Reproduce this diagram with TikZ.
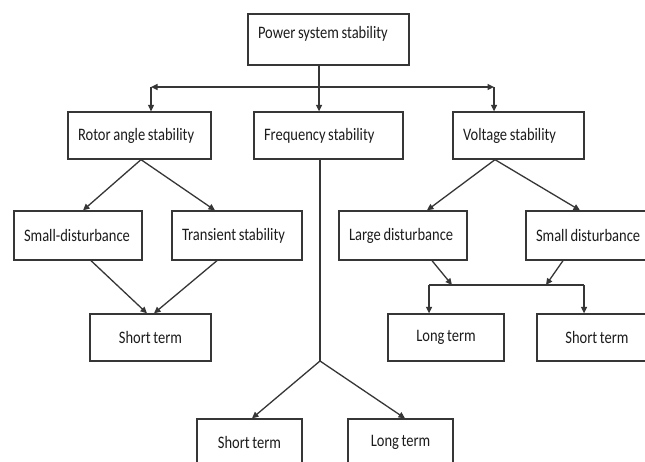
\documentclass[tikz,border=0pt]{standalone}
\usepackage{fontspec}
\setmainfont{Carlito}[FakeStretch=0.83, WordSpace=0.8]
\usepackage{tikz}
\usetikzlibrary{arrows.meta, calc, positioning}
\definecolor{linegray}{HTML}{363636}
\definecolor{textgray}{HTML}{1C1C1C}

\begin{document}
\begin{tikzpicture}[x=1pt, y=-1pt]
    \tikzset{
        box/.style={
                draw=linegray, line width=1.3pt, rectangle, text=textgray,
                font=\fontsize{17.5}{20}\selectfont, inner xsep=10pt
            },
        stab box/.style={box, align=flush left, minimum height=47pt},
        term box/.style={box, align=center, minimum height=47pt},
        link/.style={draw=linegray, line width=1.3pt},
        arrowline/.style={-{Triangle[length=6.5pt, width=6pt]}}
    }

    \useasboundingbox (0,0) rectangle (645,461);
    \fill[white] (0,0) rectangle (645,461);
    \clip (0,0) rectangle (645,461);

    \node[stab box, text width=141pt, minimum height=51pt, text depth=15pt] (power) at (328.5,39.5) {Power system stability};

    \node[stab box, text width=123pt] (rotor) at (139.5,135.5) {Rotor angle stability};
    \node[stab box, text width=129pt] (freq) at (328.5,135.5) {Frequency stability};
    \node[stab box, text width=111pt] (volt) at (518.5,135.5) {Voltage stability};

    \node[stab box, text width=108pt, minimum height=49pt] (smalldist) at (78,235.5) {Small-disturbance};
    \node[stab box, text width=110pt, minimum height=49pt] (transient) at (237,235.5) {Transient stability};
    \node[stab box, text width=108pt, minimum height=49pt] (largedist) at (403,235.5) {Large disturbance};
    \node[stab box, text width=110pt, minimum height=49pt] (smalldistv) at (591,235.5) {Small disturbance};

    \node[term box, minimum width=121pt] (shortrotor) at (150.5,337.5) {Short term};
    \node[term box, minimum width=116pt] (longvolt) at (446,337.5) {Long term};
    \node[term box, minimum width=120pt] (shortvolt) at (597,337.5) {Short term};
    \node[term box, minimum width=105pt] (shortfreq) at (249.5,442.5) {Short term};
    \node[term box, minimum width=105pt] (longfreq) at (400.5,442.5) {Long term};

    % Bus
    \coordinate (bus) at (319,87);
    \coordinate (busl) at (151,87);
    \coordinate (busr) at (494,87);
    \draw[link, arrowline] (power.south -| bus) -- (freq.north -| bus);
    \draw[link, arrowline] (bus) -- (busl);
    \draw[link, arrowline] (bus) -- (busr);
    \draw[link, arrowline] (busl) -- (rotor.north -| busl);
    \draw[link, arrowline] (busr) -- (volt.north -| busr);

    % Rotor angle branch
    \draw[link, arrowline] ([xshift=1.5pt]rotor.south) -- ([xshift=5pt]smalldist.north);
    \draw[link, arrowline] ([xshift=1.5pt]rotor.south) -- ([xshift=-22pt]transient.north);
    \draw[link, arrowline] ([xshift=13pt]smalldist.south) -- ([xshift=-3.5pt]shortrotor.north);
    \draw[link, arrowline] ([xshift=-20pt]transient.south) -- ([xshift=3.5pt]shortrotor.north);

    % Frequency branch
    \coordinate (fork) at (320,361);
    \draw[link] (freq.south -| fork) -- (fork);
    \draw[link, arrowline] (fork) -- ([xshift=2.5pt]shortfreq.north);
    \draw[link, arrowline] (fork) -- ([xshift=4.5pt]longfreq.north);

    % Voltage branch
    \draw[link, arrowline] ([xshift=-23.5pt]volt.south) -- ([xshift=24pt]largedist.north);
    \draw[link, arrowline] ([xshift=-23.5pt]volt.south) -- ([xshift=-11pt]smalldistv.north);
    \coordinate (barl) at (429,285);
    \coordinate (barr) at (584,285);
    \coordinate (joinl) at (452,285);
    \coordinate (joinr) at (546,285);
    \draw[link, arrowline] ([xshift=29pt]largedist.south) -- (joinl);
    \draw[link, arrowline] ([xshift=-28pt]smalldistv.south) -- (joinr);
    \draw[link] (barl) -- (barr);
    \draw[link, arrowline] (barl) -- (longvolt.north -| barl);
    \draw[link, arrowline] (barr) -- (shortvolt.north -| barr);
\end{tikzpicture}
\end{document}
